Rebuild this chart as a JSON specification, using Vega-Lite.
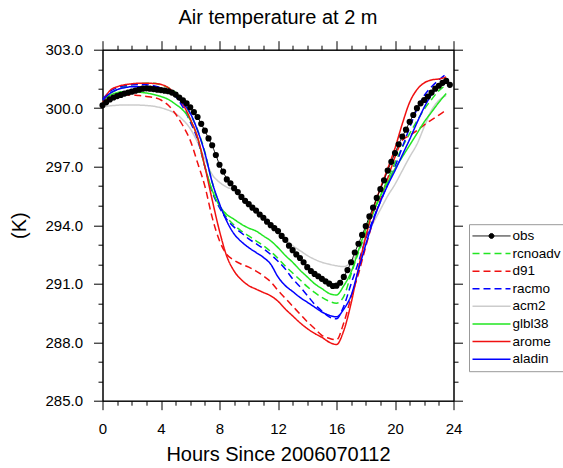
{
  "$schema": "https://vega.github.io/schema/vega-lite/v6.json",
  "width": 351,
  "height": 351,
  "autosize": "none",
  "padding": {"left": 102.5, "top": 49.7, "right": 109.5, "bottom": 67.3},
  "title": {"text": "Air temperature at 2 m", "fontSize": 20, "fontWeight": "normal", "font": "Liberation Sans", "color": "black", "offset": 12},
  "datasets": {
    "models": [
      {"h":0,"rcnoadv":300.4,"d91":300.35,"racmo":300.45,"acm2":300.05,"glbl38":300.35,"arome":300.3,"aladin":300.4},
      {"h":0.5,"rcnoadv":300.75,"d91":300.55,"racmo":300.85,"acm2":300.12,"glbl38":300.65,"arome":300.9,"aladin":300.75},
      {"h":1,"rcnoadv":300.95,"d91":300.65,"racmo":301.05,"acm2":300.15,"glbl38":300.8,"arome":301.1,"aladin":300.95},
      {"h":1.5,"rcnoadv":301.1,"d91":300.68,"racmo":301.15,"acm2":300.17,"glbl38":300.85,"arome":301.2,"aladin":301.05},
      {"h":2,"rcnoadv":301.2,"d91":300.68,"racmo":301.2,"acm2":300.17,"glbl38":300.85,"arome":301.25,"aladin":301.1},
      {"h":2.5,"rcnoadv":301.25,"d91":300.65,"racmo":301.2,"acm2":300.16,"glbl38":300.82,"arome":301.28,"aladin":301.1},
      {"h":3,"rcnoadv":301.28,"d91":300.6,"racmo":301.2,"acm2":300.14,"glbl38":300.78,"arome":301.28,"aladin":301.1},
      {"h":3.5,"rcnoadv":301.28,"d91":300.55,"racmo":301.15,"acm2":300.1,"glbl38":300.7,"arome":301.27,"aladin":301.08},
      {"h":4,"rcnoadv":301.2,"d91":300.42,"racmo":301.05,"acm2":300.02,"glbl38":300.6,"arome":301.22,"aladin":301.0},
      {"h":4.5,"rcnoadv":301.05,"d91":300.15,"racmo":300.9,"acm2":299.9,"glbl38":300.45,"arome":301.05,"aladin":300.85},
      {"h":5,"rcnoadv":300.8,"d91":299.7,"racmo":300.6,"acm2":299.72,"glbl38":300.2,"arome":300.7,"aladin":300.6},
      {"h":5.5,"rcnoadv":300.35,"d91":299.1,"racmo":300.05,"acm2":299.4,"glbl38":299.9,"arome":300.2,"aladin":300.25},
      {"h":6,"rcnoadv":299.7,"d91":298.35,"racmo":299.3,"acm2":298.95,"glbl38":299.4,"arome":299.45,"aladin":299.75},
      {"h":6.5,"rcnoadv":298.9,"d91":297.2,"racmo":298.4,"acm2":298.25,"glbl38":298.5,"arome":298.5,"aladin":298.85},
      {"h":7,"rcnoadv":297.75,"d91":296.0,"racmo":297.0,"acm2":297.4,"glbl38":297.0,"arome":297.0,"aladin":297.7},
      {"h":7.5,"rcnoadv":296.2,"d91":294.4,"racmo":295.7,"acm2":296.6,"glbl38":295.8,"arome":295.3,"aladin":296.2},
      {"h":8,"rcnoadv":295.0,"d91":293.2,"racmo":294.9,"acm2":296.2,"glbl38":295.0,"arome":293.7,"aladin":295.1},
      {"h":8.5,"rcnoadv":294.4,"d91":292.5,"racmo":294.3,"acm2":295.95,"glbl38":294.55,"arome":292.4,"aladin":294.2},
      {"h":9,"rcnoadv":294.0,"d91":292.2,"racmo":293.9,"acm2":295.8,"glbl38":294.3,"arome":291.65,"aladin":293.55},
      {"h":9.5,"rcnoadv":293.7,"d91":292.0,"racmo":293.6,"acm2":295.4,"glbl38":294.05,"arome":291.2,"aladin":293.15},
      {"h":10,"rcnoadv":293.45,"d91":291.85,"racmo":293.3,"acm2":295.05,"glbl38":293.85,"arome":290.9,"aladin":292.85},
      {"h":10.5,"rcnoadv":293.2,"d91":291.65,"racmo":293.05,"acm2":294.7,"glbl38":293.7,"arome":290.72,"aladin":292.6},
      {"h":11,"rcnoadv":292.95,"d91":291.4,"racmo":292.8,"acm2":294.35,"glbl38":293.45,"arome":290.55,"aladin":292.35},
      {"h":11.5,"rcnoadv":292.65,"d91":291.1,"racmo":292.5,"acm2":294.0,"glbl38":293.2,"arome":290.38,"aladin":292.0},
      {"h":12,"rcnoadv":292.3,"d91":290.65,"racmo":292.15,"acm2":293.65,"glbl38":292.85,"arome":290.1,"aladin":291.35},
      {"h":12.5,"rcnoadv":291.9,"d91":290.25,"racmo":291.75,"acm2":293.3,"glbl38":292.45,"arome":289.7,"aladin":290.9},
      {"h":13,"rcnoadv":291.55,"d91":289.85,"racmo":291.25,"acm2":292.95,"glbl38":292.1,"arome":289.35,"aladin":290.6},
      {"h":13.5,"rcnoadv":291.2,"d91":289.45,"racmo":290.85,"acm2":292.7,"glbl38":291.7,"arome":289.0,"aladin":290.3},
      {"h":14,"rcnoadv":290.85,"d91":289.05,"racmo":290.4,"acm2":292.45,"glbl38":291.35,"arome":288.7,"aladin":290.05},
      {"h":14.5,"rcnoadv":290.55,"d91":288.7,"racmo":289.95,"acm2":292.25,"glbl38":291.0,"arome":288.45,"aladin":289.8},
      {"h":15,"rcnoadv":290.3,"d91":288.35,"racmo":289.6,"acm2":292.1,"glbl38":290.75,"arome":288.25,"aladin":289.55},
      {"h":15.5,"rcnoadv":290.1,"d91":288.2,"racmo":289.3,"acm2":292.0,"glbl38":290.5,"arome":288.0,"aladin":289.38},
      {"h":16,"rcnoadv":290.0,"d91":288.12,"racmo":289.2,"acm2":291.92,"glbl38":290.42,"arome":287.88,"aladin":289.3},
      {"h":16.5,"rcnoadv":290.35,"d91":289.0,"racmo":289.85,"acm2":291.88,"glbl38":290.9,"arome":288.6,"aladin":289.7},
      {"h":17,"rcnoadv":291.5,"d91":290.3,"racmo":291.0,"acm2":292.1,"glbl38":291.6,"arome":290.0,"aladin":290.4},
      {"h":17.5,"rcnoadv":292.6,"d91":291.5,"racmo":292.1,"acm2":292.7,"glbl38":292.7,"arome":291.8,"aladin":291.7},
      {"h":18,"rcnoadv":293.6,"d91":292.9,"racmo":293.3,"acm2":293.4,"glbl38":293.8,"arome":293.4,"aladin":293.0},
      {"h":18.5,"rcnoadv":294.6,"d91":294.2,"racmo":294.3,"acm2":294.1,"glbl38":294.7,"arome":294.8,"aladin":294.2},
      {"h":19,"rcnoadv":295.5,"d91":295.3,"racmo":295.2,"acm2":294.8,"glbl38":295.5,"arome":295.9,"aladin":295.2},
      {"h":19.5,"rcnoadv":296.35,"d91":296.4,"racmo":296.1,"acm2":295.5,"glbl38":296.2,"arome":296.9,"aladin":296.05},
      {"h":20,"rcnoadv":297.2,"d91":297.5,"racmo":297.0,"acm2":296.1,"glbl38":296.9,"arome":297.95,"aladin":296.8},
      {"h":20.5,"rcnoadv":298.0,"d91":298.35,"racmo":298.0,"acm2":296.8,"glbl38":297.5,"arome":299.2,"aladin":297.6},
      {"h":21,"rcnoadv":298.7,"d91":298.6,"racmo":299.0,"acm2":297.5,"glbl38":298.1,"arome":300.3,"aladin":298.4},
      {"h":21.5,"rcnoadv":299.35,"d91":298.85,"racmo":299.95,"acm2":298.15,"glbl38":298.7,"arome":300.95,"aladin":299.25},
      {"h":22,"rcnoadv":299.95,"d91":299.15,"racmo":300.65,"acm2":299.05,"glbl38":299.3,"arome":301.3,"aladin":300.05},
      {"h":22.5,"rcnoadv":300.45,"d91":299.4,"racmo":301.1,"acm2":299.9,"glbl38":299.8,"arome":301.45,"aladin":300.7},
      {"h":23,"rcnoadv":300.9,"d91":299.65,"racmo":301.45,"acm2":300.4,"glbl38":300.3,"arome":301.5,"aladin":301.15},
      {"h":23.5,"rcnoadv":301.2,"d91":299.9,"racmo":301.75,"acm2":300.65,"glbl38":300.75,"arome":301.6,"aladin":301.4}
    ],
    "obs": [
      {"h":0,"T":300.15},{"h":0.25,"T":300.3},{"h":0.5,"T":300.45},{"h":0.75,"T":300.55},
      {"h":1,"T":300.62},{"h":1.25,"T":300.68},{"h":1.5,"T":300.75},{"h":1.75,"T":300.8},
      {"h":2,"T":300.85},{"h":2.25,"T":300.9},{"h":2.5,"T":300.95},{"h":2.75,"T":301.0},
      {"h":3,"T":301.02},{"h":3.25,"T":301.0},{"h":3.5,"T":300.98},{"h":3.75,"T":300.95},
      {"h":4,"T":300.93},{"h":4.25,"T":300.9},{"h":4.5,"T":300.87},{"h":4.75,"T":300.8},
      {"h":5,"T":300.7},{"h":5.25,"T":300.55},{"h":5.5,"T":300.4},{"h":5.75,"T":300.25},
      {"h":6,"T":300.05},{"h":6.25,"T":299.8},{"h":6.5,"T":299.55},{"h":6.75,"T":299.2},
      {"h":7,"T":298.85},{"h":7.25,"T":298.45},{"h":7.5,"T":298.1},{"h":7.75,"T":297.6},
      {"h":8,"T":297.1},{"h":8.25,"T":296.75},{"h":8.5,"T":296.35},{"h":8.75,"T":296.15},
      {"h":9,"T":295.9},{"h":9.25,"T":295.7},{"h":9.5,"T":295.45},{"h":9.75,"T":295.25},
      {"h":10,"T":295.08},{"h":10.25,"T":294.9},{"h":10.5,"T":294.75},{"h":10.75,"T":294.55},
      {"h":11,"T":294.38},{"h":11.25,"T":294.18},{"h":11.5,"T":294.0},{"h":11.75,"T":293.85},
      {"h":12,"T":293.7},{"h":12.25,"T":293.45},{"h":12.5,"T":293.25},{"h":12.75,"T":292.95},
      {"h":13,"T":292.72},{"h":13.25,"T":292.5},{"h":13.5,"T":292.32},{"h":13.75,"T":292.1},
      {"h":14,"T":291.85},{"h":14.25,"T":291.65},{"h":14.5,"T":291.5},{"h":14.75,"T":291.38},
      {"h":15,"T":291.25},{"h":15.25,"T":291.12},{"h":15.5,"T":291.0},{"h":15.75,"T":290.88},
      {"h":16,"T":290.9},{"h":16.25,"T":291.05},{"h":16.5,"T":291.35},{"h":16.75,"T":291.7},
      {"h":17,"T":292.1},{"h":17.25,"T":292.6},{"h":17.5,"T":293.05},{"h":17.75,"T":293.5},
      {"h":18,"T":293.95},{"h":18.25,"T":294.45},{"h":18.5,"T":294.9},{"h":18.75,"T":295.4},
      {"h":19,"T":295.85},{"h":19.25,"T":296.3},{"h":19.5,"T":296.8},{"h":19.75,"T":297.25},
      {"h":20,"T":297.7},{"h":20.25,"T":298.15},{"h":20.5,"T":298.55},{"h":20.75,"T":298.9},
      {"h":21,"T":299.3},{"h":21.25,"T":299.65},{"h":21.5,"T":300.0},{"h":21.75,"T":300.25},
      {"h":22,"T":300.42},{"h":22.25,"T":300.6},{"h":22.5,"T":300.8},{"h":22.75,"T":301.0},
      {"h":23,"T":301.15},{"h":23.25,"T":301.3},{"h":23.5,"T":301.4},{"h":23.75,"T":301.2}
    ]
  },
  "layer": [
    {
      "data": {"name": "models"},
      "transform": [{"fold": ["acm2","rcnoadv","d91","racmo","glbl38","arome","aladin"], "as": ["s","T"]}],
      "mark": {"type": "line", "strokeWidth": 1.5, "interpolate": "monotone", "clip": true},
      "encoding": {
        "x": {"field": "h", "type": "quantitative",
          "scale": {"domain": [0,24], "nice": false, "zero": false},
          "axis": {"orient": "bottom", "values": [0,1,2,3,4,5,6,7,8,9,10,11,12,13,14,15,16,17,18,19,20,21,22,23,24],
            "tickSize": {"condition": {"test": "datum.value % 4 === 0", "value": 9}, "value": 4.5},
            "labelExpr": "datum.value % 4 === 0 ? datum.label : ''",
            "title": "Hours Since 2006070112", "titleFontSize": 20, "titlePadding": 8, "labelPadding": 12}},
        "y": {"field": "T", "type": "quantitative",
          "scale": {"domain": [285,303], "nice": false, "zero": false},
          "axis": {"orient": "left", "values": [285,286,287,288,289,290,291,292,293,294,295,296,297,298,299,300,301,302,303],
            "format": ".1f",
            "tickSize": {"condition": {"test": "datum.value % 3 === 0", "value": 9}, "value": 4.5},
            "labelExpr": "datum.value % 3 === 0 ? datum.label : ''",
            "title": "(K)", "titleFontSize": 20, "titlePadding": 15, "labelPadding": 11}},
        "color": {"field": "s", "type": "nominal",
          "scale": {"domain": ["obs","rcnoadv","d91","racmo","acm2","glbl38","arome","aladin"],
            "range": ["#000000","#22e622","#f01010","#0000ff","#cccccc","#22e622","#f01010","#0000ff"]},
          "legend": {"title": null, "orient": "none", "legendX": 366.5, "legendY": 174.5,
            "encode": {"symbols": {"update": {
              "size": {"value": 1444},
              "x": {"value": 17.5},
              "shape": {"signal": "datum.value === 'obs' ? 'M-1,0L1,0M-0.13,0A0.13,0.13 0 1,0 0.13,0A0.13,0.13 0 1,0 -0.13,0Z' : 'stroke'"},
              "strokeWidth": {"signal": "datum.value === 'obs' ? 1 : 1.5"},
              "fill": {"signal": "datum.value === 'obs' ? 'black' : 'transparent'"}}}}}},
        "strokeDash": {"field": "s", "type": "nominal",
          "scale": {"domain": ["obs","rcnoadv","d91","racmo","acm2","glbl38","arome","aladin"],
            "range": [[1,0],[7,4],[7,4],[7,4],[1,0],[1,0],[1,0],[1,0]]},
          "legend": {"title": null, "orient": "none", "legendX": 366.5, "legendY": 174.5}}
      }
    },
    {
      "data": {"name": "obs"},
      "mark": {"type": "line", "strokeWidth": 1, "color": "black"},
      "encoding": {
        "x": {"field": "h", "type": "quantitative", "axis": null},
        "y": {"field": "T", "type": "quantitative", "axis": null},
        "color": {"datum": "obs"},
        "strokeDash": {"datum": "obs"}
      }
    },
    {
      "data": {"name": "obs"},
      "mark": {"type": "point", "filled": true, "size": 38, "color": "black", "opacity": 1},
      "encoding": {
        "x": {"field": "h", "type": "quantitative", "axis": null},
        "y": {"field": "T", "type": "quantitative", "axis": null}
      }
    },
    {
      "data": {"name": "obs"},
      "mark": {"type": "point", "opacity": 0},
      "encoding": {
        "x": {"field": "h", "type": "quantitative",
          "axis": {"orient": "top", "values": [0,1,2,3,4,5,6,7,8,9,10,11,12,13,14,15,16,17,18,19,20,21,22,23,24],
            "tickSize": {"condition": {"test": "datum.value % 4 === 0", "value": 9}, "value": 4.5},
            "labels": false, "title": null}},
        "y": {"field": "T", "type": "quantitative",
          "axis": {"orient": "right", "values": [285,286,287,288,289,290,291,292,293,294,295,296,297,298,299,300,301,302,303],
            "tickSize": {"condition": {"test": "datum.value % 3 === 0", "value": 9}, "value": 4.5},
            "labels": false, "title": null}}
      }
    }
  ],
  "resolve": {"axis": {"x": "independent", "y": "independent"}},
  "config": {
    "font": "Liberation Sans",
    "view": {"stroke": "black", "strokeWidth": 1},
    "axis": {"grid": false, "domainColor": "black", "tickColor": "black", "labelColor": "black", "titleColor": "black",
      "labelFontSize": 15, "titleFontWeight": "normal", "labelOverlap": false, "labelFlush": false, "tickWidth": 1, "domainWidth": 1},
    "legend": {"symbolType": "stroke", "symbolSize": 169, "symbolStrokeWidth": 1.5, "labelFontSize": 13.5, "labelColor": "black",
      "labelOffset": 25, "rowPadding": 2.6, "padding": 5, "strokeColor": "#999999", "labelLimit": 200, "symbolOffset": 0}
  }
}
